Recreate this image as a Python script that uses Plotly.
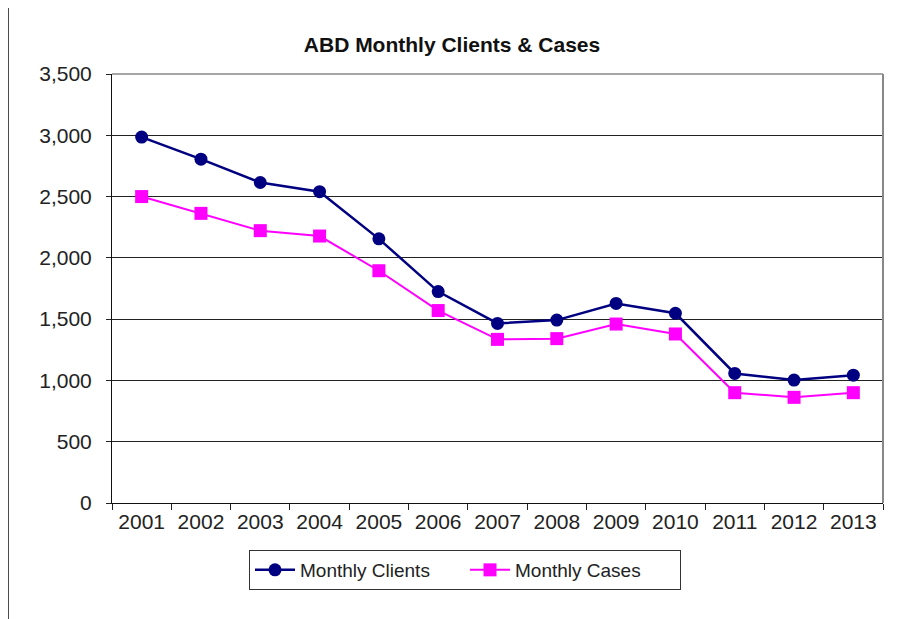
import plotly.graph_objects as go

years = ["2001", "2002", "2003", "2004", "2005", "2006", "2007",
         "2008", "2009", "2010", "2011", "2012", "2013"]
monthly_clients = [2985, 2805, 2615, 2540, 2155, 1725, 1465,
                   1492, 1628, 1548, 1057, 1003, 1043]
monthly_cases = [2500, 2363, 2222, 2178, 1895, 1570, 1335,
                 1341, 1460, 1379, 900, 862, 900]
y_ticks = [0, 500, 1000, 1500, 2000, 2500, 3000, 3500]
y_tick_text = ["0", "500", "1,000", "1,500", "2,000", "2,500", "3,000", "3,500"]

# page body has an 8px margin; compensate so the plot lands where intended
OFF = 8
W, H = 901, 619
L, R, T, B = 112 - OFF, 18 + OFF, 74 - OFF, 116 + OFF
pw, ph = W - L - R, H - T - B

fig = go.Figure()
fig.add_trace(go.Scatter(
    x=years, y=monthly_clients, name="Monthly Clients", mode="lines+markers",
    line=dict(color="#000080", width=2.5),
    marker=dict(symbol="circle", size=13, color="#000080"),
))
fig.add_trace(go.Scatter(
    x=years, y=monthly_cases, name="Monthly Cases", mode="lines+markers",
    line=dict(color="#FF00FF", width=2),
    marker=dict(symbol="square", size=13, color="#FF00FF"),
))

font_family = "Liberation Sans, Arial, sans-serif"

fig.update_layout(
    width=W, height=H,
    margin=dict(l=L, r=R, t=T, b=B, pad=0),
    paper_bgcolor="white", plot_bgcolor="white",
    font=dict(family=font_family, color="#222222"),
    title=dict(text="<b>ABD Monthly Clients & Cases</b>",
               x=(452 - OFF) / W, xref="container", xanchor="center",
               y=1 - (45 - OFF) / H, yref="container", yanchor="middle",
               font=dict(size=21, color="#111111", family=font_family)),
    showlegend=True,
    legend=dict(orientation="h", x=(465 - 112) / pw, xanchor="center",
                y=(503 - 550) / ph, yanchor="top",
                bordercolor="#333333", borderwidth=1,
                font=dict(size=19, color="#222222"),
                itemwidth=40, entrywidth=160, bgcolor="white"),
    xaxis=dict(type="category", tickson="boundaries", ticks="outside",
               ticklen=6, tickcolor="#222222", showline=True,
               linecolor="#111111", linewidth=1, showgrid=False,
               tickfont=dict(size=21), range=[-0.5, 12.5], fixedrange=True),
    yaxis=dict(range=[0, 3500], tickvals=y_ticks, ticktext=y_tick_text,
               ticks="outside", ticklen=5, tickcolor="#222222",
               showline=True, linecolor="#111111", linewidth=1,
               showgrid=True, gridcolor="#222222", gridwidth=1,
               zeroline=False, tickfont=dict(size=21), ticklabelstandoff=10),
    shapes=[
        dict(type="line", xref="paper", yref="paper",
             x0=1, x1=1, y0=0, y1=1,
             line=dict(color="#888888", width=2)),
        dict(type="line", xref="paper", yref="paper",
             x0=0, x1=1, y0=1, y1=1,
             line=dict(color="#888888", width=1.5)),
        dict(type="line", xref="paper", yref="paper",
             x0=(8 - 112) / pw, x1=(8 - 112) / pw,
             y0=(503 - 640) / ph, y1=(503 - 8) / ph,
             line=dict(color="#111111", width=1.5)),
    ],
)

fig.write_html("out.html")
